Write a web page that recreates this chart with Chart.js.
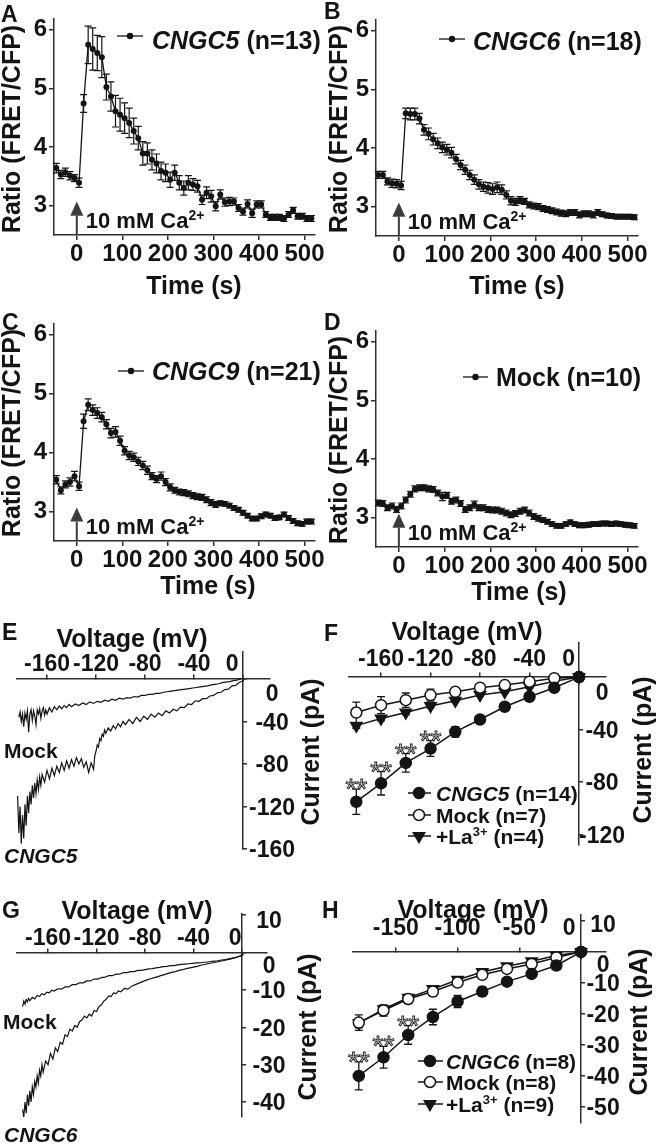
<!DOCTYPE html>
<html>
<head>
<meta charset="utf-8">
<title>CNGC FRET time courses and I-V curves</title>
<script src="https://cdn.jsdelivr.net/npm/chart.js@4.4.1/dist/chart.umd.min.js"></script>
<style>
  html, body { margin: 0; padding: 0; background: #fff; }
  #fig { position: relative; width: 663px; height: 1145px; overflow: hidden; }
  #fig canvas { position: absolute; left: 0; top: 0; }
</style>
</head>
<body>
<div id="fig">
  <canvas id="pA" width="663" height="1145"></canvas>
  <canvas id="pB" width="663" height="1145"></canvas>
  <canvas id="pC" width="663" height="1145"></canvas>
  <canvas id="pD" width="663" height="1145"></canvas>
  <canvas id="pE" width="663" height="1145"></canvas>
  <canvas id="pF" width="663" height="1145"></canvas>
  <canvas id="pG" width="663" height="1145"></canvas>
  <canvas id="pH" width="663" height="1145"></canvas>
</div>
<script>
// figure: Ca2+ FRET time courses (A-D) and whole-cell I-V curves (E-H)
const W = 663, H = 1145;
const FONT = '"Liberation Sans", Arial, Helvetica, sans-serif';
const INK = '#141414';
const AXIS = '#2e2e2e';

// === Time courses (A-D) ===
const timeS = [-45, -35, -25, -15, -5, 5, 15, 25, 35, 45, 55, 65, 75, 85, 95, 105, 115, 125, 135, 145,
  155, 165, 175, 185, 195, 205, 215, 225, 235, 245, 255, 265, 275, 285, 295, 305, 315, 325, 335, 345,
  355, 365, 375, 385, 395, 405, 415, 425, 435, 445, 455, 465, 475, 485, 495, 505, 515];
const timeTicks = [0, 100, 200, 300, 400, 500];
const ratioTicks = [3, 4, 5, 6];

const ratioC5 = [3.64, 3.53, 3.57, 3.51, 3.47, 3.39, 4.74, 5.74, 5.67, 5.60, 5.53, 5.02, 4.86, 4.61, 4.55, 4.49, 4.41, 4.27, 4.15, 3.89,
  3.89, 3.78, 3.72, 3.59, 3.56, 3.44, 3.56, 3.39, 3.30, 3.39, 3.36, 3.33, 3.10, 3.22, 3.16, 2.99, 3.19, 3.06, 3.07, 3.07,
  2.96, 2.90, 3.03, 2.87, 3.02, 3.02, 2.85, 2.80, 2.80, 2.80, 2.78, 2.85, 2.92, 2.82, 2.82, 2.78, 2.78];
const errC5 = [0.08, 0.07, 0.07, 0.07, 0.06, 0.08, 0.15, 0.32, 0.36, 0.30, 0.35, 0.22, 0.25, 0.27, 0.28, 0.26, 0.25, 0.22, 0.20, 0.20,
  0.18, 0.17, 0.16, 0.15, 0.15, 0.13, 0.13, 0.12, 0.12, 0.12, 0.10, 0.10, 0.08, 0.10, 0.10, 0.08, 0.08, 0.07, 0.07, 0.06,
  0.06, 0.06, 0.07, 0.07, 0.06, 0.06, 0.05, 0.05, 0.05, 0.05, 0.05, 0.05, 0.05, 0.05, 0.05, 0.05, 0.05];

const ratioC6 = [3.54, 3.54, 3.43, 3.40, 3.39, 3.36, 4.59, 4.58, 4.58, 4.50, 4.31, 4.24, 4.15, 4.08, 4.01, 3.97, 3.92, 3.81, 3.71, 3.63,
  3.54, 3.46, 3.38, 3.34, 3.32, 3.30, 3.33, 3.29, 3.20, 3.10, 3.08, 3.11, 3.09, 3.03, 3.01, 3.00, 2.97, 2.95, 2.93, 2.91,
  2.89, 2.88, 2.90, 2.90, 2.86, 2.88, 2.88, 2.86, 2.90, 2.87, 2.85, 2.84, 2.83, 2.83, 2.83, 2.83, 2.82];
const errC6 = [0.06, 0.06, 0.06, 0.07, 0.07, 0.07, 0.09, 0.10, 0.10, 0.09, 0.09, 0.10, 0.10, 0.09, 0.09, 0.09,
  0.09, 0.08, 0.08, 0.08, 0.08, 0.08, 0.08, 0.08, 0.09, 0.09, 0.09, 0.08, 0.07, 0.07, 0.06, 0.06, 0.05, 0.05, 0.05, 0.05,
  0.05, 0.05, 0.05, 0.05, 0.05, 0.05, 0.05, 0.05, 0.05, 0.05, 0.05, 0.05, 0.05, 0.04, 0.04, 0.04, 0.04, 0.04, 0.04, 0.04, 0.04];

const ratioC9 = [3.54, 3.36, 3.46, 3.50, 3.60, 3.43, 4.53, 4.81, 4.72, 4.67, 4.60, 4.48, 4.33, 4.35, 4.20, 4.03, 3.95, 3.92, 3.85, 3.78,
  3.70, 3.60, 3.55, 3.60, 3.50, 3.41, 3.36, 3.33, 3.32, 3.30, 3.27, 3.25, 3.24, 3.20, 3.15, 3.12, 3.14, 3.13, 3.10, 3.06,
  3.03, 2.98, 2.93, 2.88, 2.88, 2.92, 2.95, 2.93, 2.89, 2.90, 2.95, 2.89, 2.84, 2.80, 2.79, 2.83, 2.83];
const errC9 = [0.07, 0.06, 0.06, 0.07, 0.08, 0.07, 0.12, 0.10, 0.09, 0.09, 0.08, 0.08, 0.08, 0.09, 0.08, 0.07,
  0.07, 0.07, 0.07, 0.07, 0.07, 0.06, 0.06, 0.07, 0.06, 0.06, 0.05, 0.05, 0.05, 0.05, 0.05, 0.05, 0.05, 0.05, 0.05, 0.05,
  0.04, 0.04, 0.04, 0.04, 0.04, 0.04, 0.04, 0.04, 0.04, 0.04, 0.04, 0.04, 0.04, 0.04, 0.04, 0.04, 0.04, 0.04, 0.04, 0.04, 0.04];

const ratioMock = [3.25, 3.24, 3.17, 3.20, 3.14, 3.20, 3.30, 3.40, 3.49, 3.51, 3.51, 3.49, 3.48, 3.42, 3.36, 3.38, 3.28, 3.30, 3.24, 3.14,
  3.17, 3.22, 3.17, 3.17, 3.14, 3.13, 3.13, 3.11, 3.08, 3.05, 3.07, 3.11, 3.13, 3.08, 3.02, 2.99, 2.96, 2.93, 2.89, 2.86,
  2.86, 2.89, 2.92, 2.89, 2.87, 2.87, 2.88, 2.89, 2.89, 2.90, 2.90, 2.89, 2.90, 2.89, 2.88, 2.87, 2.86];
const errMock = [0.05, 0.05, 0.05, 0.05, 0.05, 0.05, 0.05, 0.05, 0.05, 0.05, 0.05, 0.05, 0.05, 0.05, 0.07, 0.05,
  0.05, 0.05, 0.05, 0.05, 0.05, 0.06, 0.05, 0.05, 0.05, 0.05, 0.05, 0.05, 0.05, 0.05, 0.05, 0.05, 0.05, 0.05, 0.05, 0.05,
  0.04, 0.04, 0.04, 0.04, 0.04, 0.04, 0.04, 0.04, 0.04, 0.04, 0.04, 0.04, 0.04, 0.04, 0.04, 0.04, 0.04, 0.04, 0.04, 0.04, 0.04];

// === Ramp traces (E, G): [mV, pA] ===
const traceE_mock = [[-183, -36], [-182, -31], [-181, -40], [-180, -33], [-179, -45], [-178, -32], [-177, -38], [-176, -30],
  [-175, -50], [-174, -33], [-173, -29], [-172, -39], [-171, -30], [-170, -35], [-169, -43], [-168, -29], [-167, -33],
  [-166, -28], [-165, -37], [-164, -30], [-163, -27], [-162, -34], [-161, -29], [-160, -33], [-158, -27], [-156, -31],
  [-154, -26], [-152, -29], [-150, -25.5], [-148, -28], [-146, -25], [-144, -27], [-142, -24], [-140, -26], [-137, -23.5],
  [-134, -25], [-131, -22.5], [-128, -24], [-125, -21.5], [-122, -23], [-119, -21], [-116, -22], [-113, -20], [-110, -21],
  [-107, -19], [-104, -20], [-101, -18], [-98, -19], [-95, -17.5], [-92, -18], [-89, -16.5], [-86, -17], [-83, -15.5],
  [-80, -15.5], [-77, -14.5], [-74, -14.5], [-71, -13.5], [-68, -13.5], [-65, -12.5], [-62, -12], [-59, -11.5], [-56, -11],
  [-53, -10.5], [-50, -10], [-47, -9.5], [-44, -9], [-41, -8.5], [-38, -8], [-35, -7.5], [-32, -7], [-29, -6.5], [-26, -5.5],
  [-23, -5], [-20, -4.5], [-17, -3.5], [-14, -3], [-11, -2.5], [-8, -1.5], [-5, -1], [-2, 0], [0, 1]];
const traceE_c5 = [[-184, -110], [-183, -145], [-182, -120], [-181, -155], [-180, -128], [-179, -150], [-178, -118],
  [-177, -138], [-176, -110], [-175, -126], [-174, -106], [-173, -118], [-172, -100], [-171, -112], [-170, -98], [-169, -108],
  [-168, -95], [-167, -104], [-166, -92], [-165, -100], [-164, -90], [-162, -97], [-160, -86], [-158, -94], [-156, -84],
  [-154, -91], [-152, -82], [-150, -88], [-148, -79], [-146, -86], [-144, -77], [-142, -84], [-140, -76], [-138, -82],
  [-136, -74], [-134, -80], [-132, -75], [-130, -83], [-128, -78], [-126, -88], [-124, -79], [-122, -85], [-121, -72],
  [-120, -68], [-119, -62], [-118, -64], [-117, -56], [-116, -58], [-115, -52], [-114, -54], [-113, -48], [-112, -51],
  [-110, -46], [-108, -49], [-106, -44], [-104, -47], [-102, -42], [-100, -45], [-98, -40], [-96, -43], [-93, -38],
  [-90, -42], [-87, -36], [-84, -40], [-81, -35], [-78, -38], [-75, -33], [-72, -36], [-69, -32], [-66, -34.5],
  [-63, -30], [-60, -32], [-57, -28.5], [-54, -30], [-51, -26.5], [-48, -27], [-45, -23.5], [-42, -24], [-39, -20.5],
  [-36, -21], [-33, -18.5], [-30, -18.5], [-27, -16], [-24, -15.5], [-21, -13], [-18, -12.5], [-15, -10], [-12, -9.5],
  [-9, -6.5], [-6, -6], [-3, -3], [0, -2], [1, 0]];
const traceG_mock = [[-181, -14.5], [-180, -13], [-179, -13.8], [-178, -12.6], [-177, -13.2], [-176, -12.3], [-175, -12.9],
  [-173, -12], [-171, -12.4], [-169, -11.5], [-167, -11.8], [-165, -11], [-163, -11.3], [-161, -10.6], [-159, -10.8],
  [-157, -10.1], [-155, -10.3], [-152, -9.7], [-149, -9.8], [-146, -9.2], [-143, -9.2], [-140, -8.6], [-137, -8.6],
  [-134, -8.1], [-131, -8.1], [-128, -7.6], [-125, -7.6], [-122, -7.1], [-119, -7.1], [-116, -6.7], [-113, -6.6],
  [-110, -6.2], [-107, -6.2], [-104, -5.8], [-101, -5.8], [-98, -5.4], [-95, -5.4], [-92, -5.1], [-89, -5.1], [-86, -4.8],
  [-83, -4.8], [-80, -4.6], [-77, -4.4], [-74, -4.3], [-71, -4.1], [-68, -4], [-65, -3.8], [-62, -3.7], [-59, -3.5],
  [-56, -3.5], [-53, -3.3], [-50, -3.2], [-47, -3.1], [-44, -3], [-41, -2.9], [-38, -2.8], [-35, -2.8], [-32, -2.6],
  [-29, -2.6], [-26, -2.4], [-23, -2.3], [-20, -2.2], [-17, -2], [-14, -1.9], [-11, -1.7], [-8, -1.5], [-5, -1.3],
  [-2, -1], [0, -0.8], [1, -0.4]];
const traceG_c6 = [[-181, -42], [-180, -44], [-179, -40], [-178, -43], [-177, -38], [-176, -41], [-175, -37], [-174, -40],
  [-173, -36], [-172, -38], [-171, -34.5], [-170, -36], [-169, -33], [-168, -35], [-167, -31.5], [-166, -33], [-165, -30],
  [-164, -32], [-162, -29], [-160, -30], [-158, -27], [-156, -28.5], [-154, -25.5], [-152, -26.5], [-150, -24],
  [-148, -24.5], [-146, -22], [-144, -22.5], [-142, -20.5], [-140, -21], [-138, -19.5], [-136, -20], [-134, -18.5],
  [-132, -18], [-130, -17], [-128, -17.5], [-126, -16.5], [-124, -17], [-122, -15.5], [-120, -15.8], [-118, -14.5],
  [-116, -14], [-114, -13], [-112, -12.5], [-110, -11.6], [-108, -11.8], [-106, -10.8], [-104, -11], [-102, -10.3],
  [-100, -10.5], [-97, -9.6], [-94, -9.8], [-91, -9], [-88, -8.6], [-85, -8.2], [-82, -7.8], [-79, -7.4], [-76, -7.1],
  [-73, -6.8], [-70, -6.5], [-67, -6.2], [-64, -5.9], [-61, -5.6], [-58, -5.3], [-55, -5.1], [-52, -4.8], [-49, -4.6],
  [-46, -4.3], [-43, -4.1], [-40, -3.9], [-37, -3.7], [-34, -3.4], [-31, -3.2], [-28, -3], [-25, -2.8], [-22, -2.6],
  [-19, -2.4], [-16, -2.2], [-13, -2], [-10, -1.8], [-7, -1.5], [-4, -1.2], [-1, -0.9], [1, -0.5]];

// === Step I-V means (F, H) ===
const stepV = [-180, -160, -140, -120, -100, -80, -60, -40, -20, 0];
const fC5 = [-95, -81, -65.4, -54.5, -41.7, -32.3, -22.6, -15, -8.1, 0];
const fC5err = [9.6, 8.9, 7, 6, 4, 2.5, 2, 2, 1.5, 0];
const fMock = [-27, -21.4, -17.6, -13.7, -11.2, -8.1, -6.1, -3.5, -0.8, 0];
const fMockErr = [8, 6.5, 5.5, 4.5, 3, 2, 1.5, 1.5, 1, 0];
const fLa = [-37, -31.6, -27, -22, -18, -13.7, -11.2, -7.4, -3.2, 0];
const fLaErr = [2, 1.8, 1.5, 1.5, 1.2, 1, 1, 1, 1, 0];
const hC6 = [-40, -34, -26.8, -21, -16, -12.8, -9.6, -7.1, -4.4, 0];
const hC6err = [4.5, 3.5, 3, 2.5, 2, 1.5, 1.2, 1, 0.8, 0];
const hMock = [-22.8, -18.9, -15.2, -12.8, -9.9, -7.4, -5.5, -3.9, -1.8, 0];
const hMockErr = [2.5, 1.8, 1.5, 1.5, 1.2, 1, 0.8, 0.8, 0.6, 0];
const hLa = [-23, -18.5, -14.8, -12, -9, -6.5, -4.6, -3, -1.2, 0];
const hLaErr = [1.5, 1.2, 1, 1, 0.8, 0.8, 0.6, 0.6, 0.5, 0];

const voltTicks40 = [-160, -120, -80, -40, 0];
const voltTicks50 = [-150, -100, -50, 0];
const curTicksE = [0, -40, -80, -120, -160];
const curTicksF = [0, -40, -80, -120];
const curTicksG = [10, 0, -10, -20, -30, -40];
const curTicksH = [10, 0, -10, -20, -30, -40, -50];

// === Text helpers ===
function seg(t, size, opt) { return Object.assign({ t, size }, opt || {}); }
function fontOf(s) { return (s.i ? 'italic ' : '') + (s.w || 'bold') + ' ' + s.size + 'px ' + FONT; }

// y is the centre of the capitals of the first segment
function rich(ctx, segs, x, y, align) {
  let w = 0;
  segs.forEach(s => { ctx.font = fontOf(s); w += ctx.measureText(s.t).width; });
  let cx = align === 'center' ? x - w / 2 : x;
  const base = y + 0.36 * segs[0].size;
  ctx.textAlign = 'left';
  ctx.textBaseline = 'alphabetic';
  ctx.fillStyle = INK;
  segs.forEach(s => {
    ctx.font = fontOf(s);
    ctx.fillText(s.t, cx, base - (s.up || 0));
    cx += ctx.measureText(s.t).width;
  });
}
function vtitle(ctx, text, x, y) {
  ctx.save();
  ctx.translate(x, y);
  ctx.rotate(-Math.PI / 2);
  rich(ctx, [seg(text, 25)], 0, 0, 'center');
  ctx.restore();
}
function letter(ctx, t, x, y) { rich(ctx, [seg(t, 23)], x, y, 'left'); }

// === Plugins ===
const errorBars = {
  id: 'errorBars',
  beforeDatasetsDraw(chart) {
    const { ctx, scales: { y } } = chart;
    chart.data.datasets.forEach((ds, i) => {
      if (!ds.errs) return;
      const meta = chart.getDatasetMeta(i);
      ctx.save();
      ctx.strokeStyle = INK;
      ctx.lineWidth = ds.errWidth || 1.2;
      meta.data.forEach((pt, j) => {
        const e = ds.errs[j];
        if (!e) return;
        const v = ds.data[j].y;
        const y1 = y.getPixelForValue(v + e), y2 = y.getPixelForValue(v - e), c = ds.cap;
        ctx.beginPath();
        ctx.moveTo(pt.x, y1); ctx.lineTo(pt.x, y2);
        ctx.moveTo(pt.x - c, y1); ctx.lineTo(pt.x + c, y1);
        ctx.moveTo(pt.x - c, y2); ctx.lineTo(pt.x + c, y2);
        ctx.stroke();
      });
      ctx.restore();
    });
  }
};

function decor(draw) {
  return {
    id: 'decor',
    afterDraw(chart) {
      const ctx = chart.ctx;
      ctx.save();
      draw(chart, ctx);
      ctx.restore();
    }
  };
}

function caArrow(chart, ctx) {
  const xs = chart.scales.x, ys = chart.scales.y, ca = chart.chartArea;
  const x = xs.getPixelForValue(0);
  const tip = ys.getPixelForValue(3.07), base = ys.getPixelForValue(2.83);
  ctx.fillStyle = '#3c3c3c';
  ctx.beginPath();
  ctx.moveTo(x, tip); ctx.lineTo(x - 6.5, base); ctx.lineTo(x + 6.5, base);
  ctx.closePath(); ctx.fill();
  ctx.fillRect(x - 1, base, 2, ca.bottom - base);
  rich(ctx, [seg('10 mM Ca', 22), seg('2+', 14, { up: 8 })], x + 9, ca.bottom - 15, 'left');
}

function dotLegend(ctx, x1, x2, y, tx, ty, segs) {
  ctx.strokeStyle = INK; ctx.lineWidth = 1.3;
  ctx.beginPath(); ctx.moveTo(x1, y); ctx.lineTo(x2, y); ctx.stroke();
  ctx.fillStyle = INK;
  ctx.beginPath(); ctx.arc((x1 + x2) / 2, y, 3.2, 0, Math.PI * 2); ctx.fill();
  rich(ctx, segs, tx, ty, 'left');
}

function marker(ctx, kind, x, y) {
  ctx.lineWidth = 1.5; ctx.strokeStyle = INK;
  ctx.fillStyle = kind === 'open' ? '#fff' : INK;
  ctx.beginPath();
  if (kind === 'tri') {
    const r = 6.5;
    ctx.moveTo(x, y + r); ctx.lineTo(x - r * 0.866, y - r / 2); ctx.lineTo(x + r * 0.866, y - r / 2);
    ctx.closePath();
  } else {
    ctx.arc(x, y, 5.5, 0, Math.PI * 2);
  }
  ctx.fill(); ctx.stroke();
}
function markLegend(ctx, rows, x1, x2, mx, tx) {
  rows.forEach(r => {
    ctx.strokeStyle = INK; ctx.lineWidth = 1.5;
    ctx.beginPath(); ctx.moveTo(x1, r.y); ctx.lineTo(x2, r.y); ctx.stroke();
    marker(ctx, r.kind, mx, r.y);
    rich(ctx, r.segs, tx, r.y, 'left');
  });
}

function stars(chart, ctx, di, idx) {
  const ds = chart.data.datasets[di], meta = chart.getDatasetMeta(di), ys = chart.scales.y;
  ctx.font = '28px ' + FONT;
  ctx.textAlign = 'center'; ctx.textBaseline = 'alphabetic';
  ctx.fillStyle = '#fff'; ctx.strokeStyle = '#2a2a2a'; ctx.lineWidth = 1;
  idx.forEach(j => {
    const p = meta.data[j];
    const top = ys.getPixelForValue(ds.data[j].y + ds.errs[j]);
    const yb = top - 7 + 16;
    ctx.fillText('**', p.x, yb);
    ctx.strokeText('**', p.x, yb);
  });
}

function ivLabels(chart, ctx, c) {
  const xs = chart.scales.x, ys = chart.scales.y;
  const ax = xs.getPixelForValue(0), ay = ys.getPixelForValue(0);
  ctx.fillStyle = INK;
  ctx.font = 'bold 23px ' + FONT;
  ctx.textAlign = 'center'; ctx.textBaseline = 'alphabetic';
  const cap = 0.36 * 23;
  xs.ticks.forEach(t => ctx.fillText(String(t.value),
    xs.getPixelForValue(t.value) + (t.value === 0 ? c.x0 : 0), ay + c.xdy + cap));
  ys.ticks.forEach(t => ctx.fillText(String(t.value),
    ax + c.ydx, ys.getPixelForValue(t.value) + (c.ydy[t.value] || 0) + cap));
}

// === Axis options ===
function boxAxis(min, max, ticks, fit, pad) {
  return {
    type: 'linear', min, max,
    afterBuildTicks: s => { s.ticks = ticks.map(v => ({ value: v })); },
    afterFit: fit,
    grid: { drawOnChartArea: false, tickLength: 5, color: AXIS, lineWidth: 1.5 },
    border: { color: AXIS, width: 1.5 },
    ticks: { color: INK, font: { family: FONT, size: 24, weight: 'bold' }, padding: pad, autoSkip: false, maxRotation: 0 }
  };
}
function crossAxis(position, range, ticks) {
  return {
    type: 'linear', position, min: range[0], max: range[1],
    afterBuildTicks: s => { s.ticks = ticks.map(v => ({ value: v })); },
    ticks: { display: false },
    grid: { drawOnChartArea: false, tickLength: -5, color: AXIS, lineWidth: 1.5 },
    border: { color: AXIS, width: 1.5 }
  };
}

// === Panel builders ===
function timePanel(id, p) {
  const ds = {
    data: timeS.map((t, i) => ({ x: t, y: p.vals[i] })),
    errs: p.errs, cap: 3.5,
    showLine: true, borderColor: INK, backgroundColor: INK, borderWidth: 1.3,
    pointRadius: 3, pointBorderWidth: 0, pointHoverRadius: 3
  };
  return new Chart(document.getElementById(id), {
    type: 'scatter',
    data: { datasets: [ds] },
    options: {
      responsive: false, animation: false, events: [],
      layout: { padding: { left: p.area[0] - 45, top: p.area[1], right: W - p.area[2], bottom: H - p.area[3] - 40 } },
      plugins: { legend: { display: false }, tooltip: { enabled: false } },
      scales: {
        x: boxAxis(-50, 523, timeTicks, s => { s.height = 40; }, 0),
        y: boxAxis(2.5, 6.18, ratioTicks, s => { s.width = 45; }, 2)
      }
    },
    plugins: [errorBars, decor((chart, ctx) => {
      letter(ctx, p.letter[0], p.letter[1], p.letter[2]);
      vtitle(ctx, 'Ratio (FRET/CFP)', p.ratioT[0], p.ratioT[1]);
      rich(ctx, [seg('Time (s)', 25)], p.timeT[0], p.timeT[1], 'center');
      dotLegend(ctx, p.leg.x1, p.leg.x2, p.leg.y, p.leg.tx, p.leg.ty, p.leg.segs);
      caArrow(chart, ctx);
    })]
  });
}

function ivPanel(id, p) {
  return new Chart(document.getElementById(id), {
    type: 'scatter',
    data: { datasets: p.datasets },
    options: {
      responsive: false, animation: false, events: [],
      layout: { padding: { left: p.area[0], top: p.area[1], right: W - p.area[2], bottom: H - p.area[3] } },
      plugins: { legend: { display: false }, tooltip: { enabled: false } },
      scales: {
        x: crossAxis({ y: 0 }, p.xr, p.xt),
        y: crossAxis({ x: 0 }, p.yr, p.yt)
      }
    },
    plugins: [errorBars, decor((chart, ctx) => {
      letter(ctx, p.letter[0], p.letter[1], p.letter[2]);
      rich(ctx, [seg('Voltage (mV)', 25)], p.voltT[0], p.voltT[1], 'center');
      vtitle(ctx, 'Current (pA)', p.curT[0], p.curT[1]);
      ivLabels(chart, ctx, p.lab);
      p.extra(chart, ctx);
    })]
  });
}

function traceSet(pairs) {
  return { data: pairs.map(([x, y]) => ({ x, y })), showLine: true, pointRadius: 0, pointHoverRadius: 0,
    borderColor: INK, borderWidth: 1.2 };
}
function stepSet(vals, errs, style) {
  return Object.assign({
    data: stepV.map((v, i) => ({ x: v, y: vals[i] })), errs, cap: 4, errWidth: 1.3,
    showLine: true, borderColor: INK, borderWidth: 1.5,
    pointRadius: 5.5, pointHoverRadius: 5.5, pointBorderColor: INK, pointBorderWidth: 1.5,
    pointBackgroundColor: INK, clip: false
  }, style);
}

// === Build ===
timePanel('pA', {
  vals: ratioC5, errs: errC5, area: [54, 19, 315, 235],
  letter: ['A', 1, 14], ratioT: [11, 129], timeT: [194, 285],
  leg: { x1: 117, x2: 143, y: 36, tx: 152, ty: 40, segs: [seg('CNGC5', 25, { i: true }), seg(' (n=13)', 25)] }
});
timePanel('pB', {
  vals: ratioC6, errs: errC6, area: [376, 20, 638, 236],
  letter: ['B', 324, 11], ratioT: [338, 129], timeT: [517, 285],
  leg: { x1: 439, x2: 465, y: 39, tx: 473, ty: 41, segs: [seg('CNGC6', 25, { i: true }), seg(' (n=18)', 25)] }
});
timePanel('pC', {
  vals: ratioC9, errs: errC9, area: [54, 324, 315, 541],
  letter: ['C', 2, 322], ratioT: [11, 433], timeT: [208, 585],
  leg: { x1: 118, x2: 144, y: 371, tx: 152, ty: 371, segs: [seg('CNGC9', 25, { i: true }), seg(' (n=21)', 25)] }
});
timePanel('pD', {
  vals: ratioMock, errs: errMock, area: [376, 331, 638, 547],
  letter: ['D', 324, 322], ratioT: [338, 440], timeT: [519, 591],
  leg: { x1: 463, x2: 488, y: 377, tx: 496, ty: 377, segs: [seg('Mock (n=10)', 25)] }
});

ivPanel('pE', {
  datasets: [traceSet(traceE_mock), traceSet(traceE_c5)],
  area: [17, 652, 270, 849], xr: [-184.5, 22], yr: [-160, 25.4], xt: voltTicks40, yt: curTicksE,
  letter: ['E', 2, 632], voltT: [132, 638], curT: [310, 752],
  lab: { xdy: -16, x0: -11, ydx: 29, ydy: { 0: 14 } },
  extra: (chart, ctx) => {
    rich(ctx, [seg('Mock', 21)], 4, 750, 'left');
    rich(ctx, [seg('CNGC5', 21, { i: true })], 4, 855, 'left');
  }
});
ivPanel('pF', {
  datasets: [stepSet(fC5, fC5err, {}), stepSet(fMock, fMockErr, { pointBackgroundColor: '#fff' }),
    stepSet(fLa, fLaErr, { pointStyle: 'triangle', pointRotation: 180, pointRadius: 6.5, pointHoverRadius: 6.5 })],
  area: [349, 643, 606, 845], xr: [-185.9, 21.8], yr: [-128, 26], xt: voltTicks40, yt: curTicksF,
  letter: ['F', 324, 633], voltT: [467, 631], curT: [642, 750],
  lab: { xdy: -19, x0: -10.5, ydx: 23, ydy: { 0: 15 } },
  extra: (chart, ctx) => {
    stars(chart, ctx, 0, [0, 1, 2, 3]);
    markLegend(ctx, [
      { kind: 'filled', y: 793, segs: [seg('CNGC5', 21, { i: true }), seg(' (n=14)', 21)] },
      { kind: 'open', y: 815, segs: [seg('Mock (n=7)', 21)] },
      { kind: 'tri', y: 836, segs: [seg('+La', 21), seg('3+', 13, { up: 8 }), seg(' (n=4)', 21)] }
    ], 408, 431, 419, 436);
  }
});
ivPanel('pG', {
  datasets: [traceSet(traceG_mock), traceSet(traceG_c6)],
  area: [17, 914, 267, 1117], xr: [-185.6, 20.6], yr: [-44, 10.3], xt: voltTicks40, yt: curTicksG,
  letter: ['G', 2, 910], voltT: [137, 910], curT: [307, 1027],
  lab: { xdy: -16, x0: -7, ydx: 27, ydy: { 0: 12.5, 10: 5 } },
  extra: (chart, ctx) => {
    rich(ctx, [seg('Mock', 21)], 3, 1021, 'left');
    rich(ctx, [seg('CNGC6', 21, { i: true })], 4, 1134, 'left');
  }
});
ivPanel('pH', {
  datasets: [stepSet(hC6, hC6err, {}), stepSet(hMock, hMockErr, { pointBackgroundColor: '#fff' }),
    stepSet(hLa, hLaErr, { pointStyle: 'triangle', pointRotation: 180, pointRadius: 6.5, pointHoverRadius: 6.5 })],
  area: [353, 915, 606, 1123], xr: [-184.7, 20.2], yr: [-55.2, 11.9], xt: voltTicks50, yt: curTicksH,
  letter: ['H', 322, 910], voltT: [473, 909], curT: [638, 1022],
  lab: { xdy: -25, x0: -12, ydx: 22, ydy: { 0: 11.5, 10: 2.5 } },
  extra: (chart, ctx) => {
    stars(chart, ctx, 0, [0, 1, 2]);
    markLegend(ctx, [
      { kind: 'filled', y: 1061, segs: [seg('CNGC6', 21, { i: true }), seg(' (n=8)', 21)] },
      { kind: 'open', y: 1082, segs: [seg('Mock (n=8)', 21)] },
      { kind: 'tri', y: 1104, segs: [seg('+La', 21), seg('3+', 13, { up: 8 }), seg(' (n=9)', 21)] }
    ], 418, 443, 430, 446);
  }
});
</script>
</body>
</html>
